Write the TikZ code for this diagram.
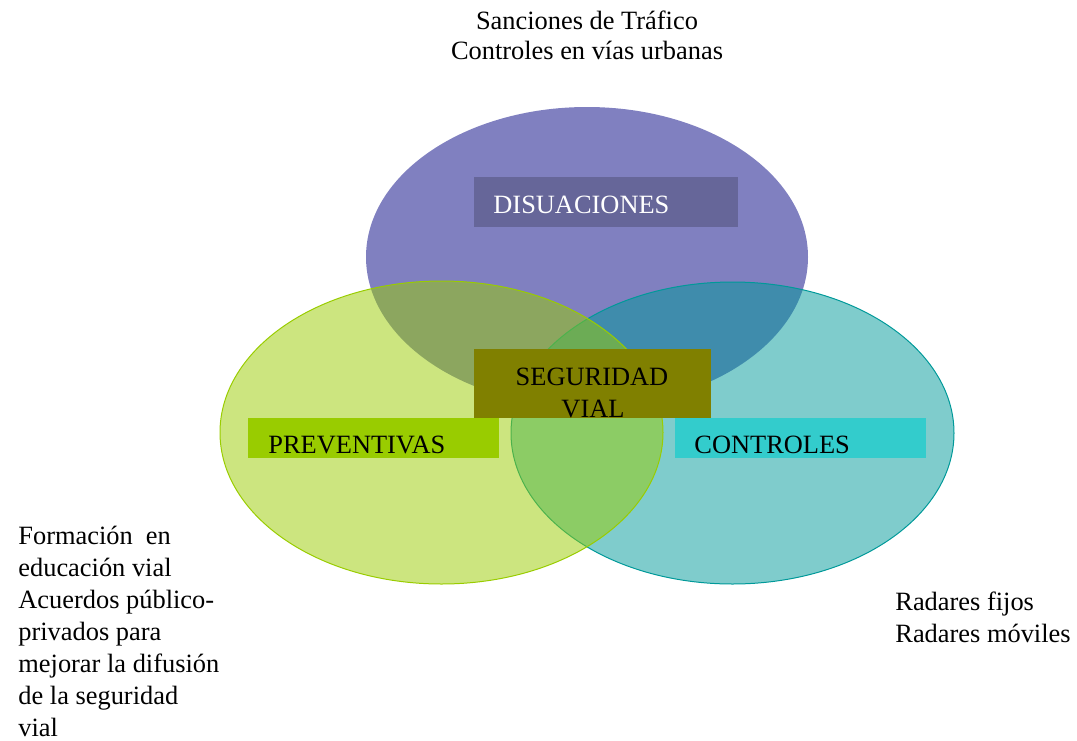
\documentclass[tikz,border=0pt]{standalone}
\usepackage{fontspec}
\setmainfont{Liberation Serif}
\definecolor{disFill}{HTML}{8080C0}
\definecolor{disBox}{HTML}{666699}
\definecolor{prevColor}{HTML}{99CC00}
\definecolor{ctrlColor}{HTML}{009999}
\definecolor{segBox}{HTML}{808000}
\definecolor{ctrlBox}{HTML}{33CCCC}

\begin{document}
\begin{tikzpicture}[x=0.5pt,y=-0.5pt,
    lbl/.style={font=\fontsize{13.2}{16}\selectfont,inner sep=0pt}]
    \useasboundingbox (0,0) rectangle (1077,740);
    \fill[disFill] (587,257) ellipse [x radius=221, y radius=150];% disuaciones
    \filldraw[fill=ctrlColor, fill opacity=0.5, draw=ctrlColor, line width=0.5pt]
        (732.5,433) ellipse [x radius=221.5, y radius=151];% controles
    \filldraw[fill=prevColor, fill opacity=0.5, draw=prevColor, line width=0.5pt]
        (441.5,432.5) ellipse [x radius=221.5, y radius=151.5];% preventivas
    \fill[disBox] (474,177) rectangle (738,227);
    \fill[segBox] (474,349) rectangle (711,418);
    \fill[prevColor] (248,418) rectangle (499,458);
    \fill[ctrlBox] (675,418) rectangle (926,458);
    \node[lbl,anchor=base west,text=white] (disuaciones) at (493,213) {DISUACIONES};
    \node[lbl,anchor=base] (seguridad) at (592,385) {SEGURIDAD};
    \node[lbl,anchor=base] (vial) at (593,417) {VIAL};
    \node[lbl,anchor=base west] (preventivas) at (268,453) {PREVENTIVAS};
    \node[lbl,anchor=base west] (controles) at (694,453) {CONTROLES};
    \node[lbl,align=center,anchor=north,font=\fontsize{13.2}{15}\selectfont]
        (sanciones) at (587,11) {Sanciones de Tráfico\\Controles en vías urbanas};
    \node[lbl,align=left,anchor=north west]
        (formacion) at (18,526) {Formación\ \ en\\educación vial\\Acuerdos público-\\privados para\\mejorar la difusión\\de la seguridad\\vial};
    \node[lbl,align=left,anchor=north west]
        (radares) at (895,592) {Radares fijos\\Radares móviles};
\end{tikzpicture}
\end{document}
